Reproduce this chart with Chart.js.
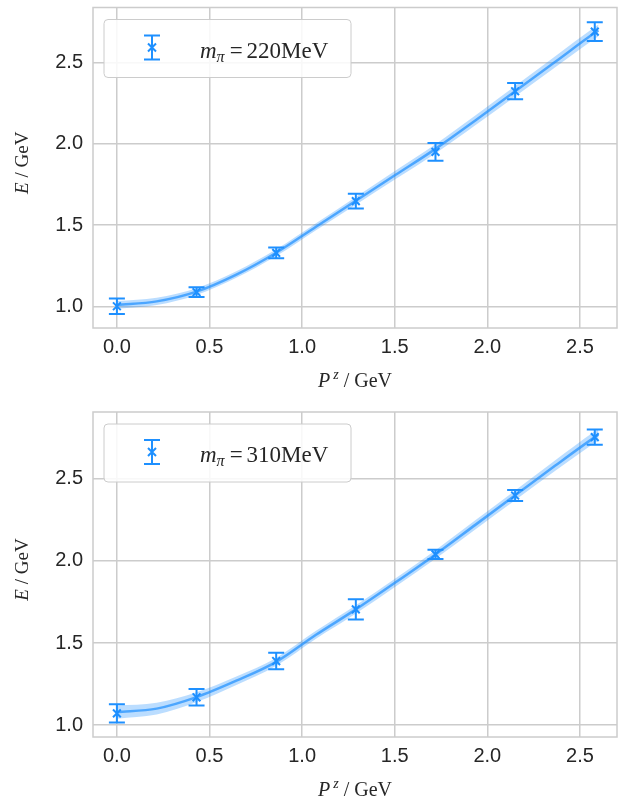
<!DOCTYPE html>
<html>
<head>
<meta charset="utf-8">
<script src="https://cdn.jsdelivr.net/npm/chart.js@4.4.1/dist/chart.umd.min.js"></script>
<style>
  html, body { margin: 0; padding: 0; background: #fff; }
  #wrap { position: relative; width: 636px; height: 801px; }
  canvas { position: absolute; left: 0; }
  #top { top: 0; }
  #bottom { top: 400px; }
</style>
</head>
<body>
<div id="wrap">
  <canvas id="top" width="636" height="400"></canvas>
  <canvas id="bottom" width="636" height="401"></canvas>
</div>
<script>
// lattice momenta (GeV)
const momenta = [0, 0.43, 0.86, 1.29, 1.72, 2.15, 2.58];

// m_pi = 220 MeV
const energy220 = [1.00, 1.087, 1.329, 1.648, 1.951, 2.325, 2.692];
const error220 = [0.048, 0.03, 0.033, 0.045, 0.055, 0.05, 0.058];

// m_pi = 310 MeV
const energy310 = [1.071, 1.169, 1.39, 1.705, 2.04, 2.399, 2.755];
const error310 = [0.055, 0.05, 0.05, 0.062, 0.028, 0.033, 0.046];

// dispersion fit
const fitMomenta = [0, 0.215, 0.43, 0.645, 0.86, 1.075, 1.29, 1.505, 1.72, 1.935, 2.15, 2.365, 2.58, 2.6];
const fit220 = [1.008, 1.03, 1.09, 1.195, 1.33, 1.49, 1.65, 1.81, 1.97, 2.145, 2.325, 2.505, 2.685, 2.70];
const band220 = [0.024, 0.023, 0.021, 0.02, 0.021, 0.022, 0.024, 0.026, 0.028, 0.03, 0.032, 0.034, 0.036, 0.036];
const fit310 = [1.079, 1.10, 1.17, 1.27, 1.385, 1.55, 1.705, 1.87, 2.04, 2.22, 2.40, 2.58, 2.755, 2.77];
const band310 = [0.04, 0.036, 0.03, 0.026, 0.024, 0.024, 0.025, 0.025, 0.026, 0.028, 0.03, 0.032, 0.035, 0.035];

const xTicks = [0, 0.5, 1.0, 1.5, 2.0, 2.5];
const yTicks = [1.0, 1.5, 2.0, 2.5];

const BLUE = '#1E90FF';
const GRID = '#cccccc';
const TEXT = '#262626';

const pts = (xs, ys) => xs.map((x, i) => ({ x: x, y: ys[i] }));

// error bars + frame + legend + axis titles
const decorations = {
  id: 'decorations',
  afterDatasetsDraw(chart, args, opts) {
    const { ctx, scales: { x, y } } = chart;
    ctx.save();
    ctx.strokeStyle = BLUE;
    ctx.lineWidth = 2;
    opts.values.forEach((v, i) => {
      const px = x.getPixelForValue(opts.momenta[i]);
      const y0 = y.getPixelForValue(v - opts.errors[i]);
      const y1 = y.getPixelForValue(v + opts.errors[i]);
      ctx.beginPath();
      ctx.moveTo(px, y0); ctx.lineTo(px, y1);
      ctx.moveTo(px - 8, y0); ctx.lineTo(px + 8, y0);
      ctx.moveTo(px - 8, y1); ctx.lineTo(px + 8, y1);
      ctx.stroke();
    });
    ctx.restore();
  },
  afterDraw(chart, args, opts) {
    const { ctx, chartArea: a } = chart;
    ctx.save();
    // frame
    ctx.strokeStyle = GRID;
    ctx.lineWidth = 1.5;
    ctx.strokeRect(a.left, a.top, a.right - a.left, a.bottom - a.top);

    // legend box
    const lx = a.left + 11, ly = a.top + 12, lw = 247, lh = 58;
    ctx.beginPath();
    ctx.roundRect(lx, ly, lw, lh, 4);
    ctx.fillStyle = 'rgba(255,255,255,0.85)';
    ctx.fill();
    ctx.strokeStyle = GRID;
    ctx.lineWidth = 1;
    ctx.stroke();

    // legend marker
    const mx = lx + 48, my = ly + 28;
    ctx.strokeStyle = BLUE;
    ctx.lineWidth = 2;
    ctx.beginPath();
    ctx.moveTo(mx, my - 12); ctx.lineTo(mx, my + 12);
    ctx.moveTo(mx - 8, my - 12); ctx.lineTo(mx + 8, my - 12);
    ctx.moveTo(mx - 8, my + 12); ctx.lineTo(mx + 8, my + 12);
    ctx.moveTo(mx - 4, my - 4); ctx.lineTo(mx + 4, my + 4);
    ctx.moveTo(mx - 4, my + 4); ctx.lineTo(mx + 4, my - 4);
    ctx.stroke();

    // legend label: m_pi = ...MeV
    ctx.fillStyle = TEXT;
    ctx.textBaseline = 'alphabetic';
    ctx.textAlign = 'left';
    let tx = lx + 96;
    const tb = ly + 38;
    ctx.font = 'italic 23px "Liberation Serif"';
    ctx.fillText('m', tx, tb);
    tx += ctx.measureText('m').width;
    ctx.font = 'italic 16px "Liberation Serif"';
    ctx.fillText('π', tx, tb + 4);
    tx += ctx.measureText('π').width + 5;
    ctx.font = '23px "Liberation Serif"';
    ctx.fillText('=', tx, tb);
    tx += ctx.measureText('=').width + 4;
    ctx.fillText(opts.label, tx, tb);

    // x title: P^z / GeV
    ctx.font = 'italic 20px "Liberation Serif"';
    const wP = ctx.measureText('P').width;
    ctx.font = 'italic 14px "Liberation Serif"';
    const wZ = ctx.measureText('z').width;
    ctx.font = '20px "Liberation Serif"';
    const wR = ctx.measureText(' / GeV').width;
    let sx = (a.left + a.right) / 2 - (wP + wZ + 3 + wR) / 2;
    const sb = a.bottom + 59;
    ctx.font = 'italic 20px "Liberation Serif"';
    ctx.fillText('P', sx, sb);
    sx += wP + 3;
    ctx.font = 'italic 14px "Liberation Serif"';
    ctx.fillText('z', sx, sb - 8);
    sx += wZ;
    ctx.font = '20px "Liberation Serif"';
    ctx.fillText(' / GeV', sx, sb);

    // y title: E / GeV
    ctx.translate(28, (a.top + a.bottom) / 2 - 5);
    ctx.rotate(-Math.PI / 2);
    ctx.font = 'italic 19px "Liberation Serif"';
    const wE = ctx.measureText('E').width;
    ctx.font = '19px "Liberation Serif"';
    const wG = ctx.measureText(' / GeV').width;
    const ex = -(wE + wG) / 2;
    ctx.font = 'italic 19px "Liberation Serif"';
    ctx.fillText('E', ex, 0);
    ctx.font = '19px "Liberation Serif"';
    ctx.fillText(' / GeV', ex + wE, 0);
    ctx.restore();
  },
};

function makeChart(id, values, errors, fit, band, label, yMin, yMax, xHeight, padTop) {
  const lower = fit.map((v, i) => v - band[i]);
  const upper = fit.map((v, i) => v + band[i]);
  const tickFont = { family: 'Liberation Sans', size: 20 };
  return new Chart(document.getElementById(id), {
    type: 'scatter',
    data: {
      datasets: [
        {
          data: pts(fitMomenta, lower),
          showLine: true,
          borderWidth: 0,
          borderColor: 'rgba(0,0,0,0)',
          pointRadius: 0,
          cubicInterpolationMode: 'monotone',
          fill: false,
        },
        {
          data: pts(fitMomenta, upper),
          showLine: true,
          borderWidth: 0,
          borderColor: 'rgba(0,0,0,0)',
          pointRadius: 0,
          cubicInterpolationMode: 'monotone',
          fill: '-1',
          backgroundColor: 'rgba(30,144,255,0.3)',
        },
        {
          data: pts(fitMomenta, fit),
          showLine: true,
          borderWidth: 2.5,
          borderColor: 'rgba(30,144,255,0.7)',
          pointRadius: 0,
          cubicInterpolationMode: 'monotone',
        },
        {
          data: pts(momenta, values),
          pointStyle: 'crossRot',
          pointRadius: 5.5,
          borderWidth: 2,
          borderColor: BLUE,
          backgroundColor: BLUE,
        },
      ],
    },
    options: {
      responsive: false,
      animation: false,
      layout: { padding: { top: padTop, right: 19, left: 0, bottom: 0 } },
      plugins: {
        legend: { display: false },
        tooltip: { enabled: false },
        decorations: { momenta: momenta, values: values, errors: errors, label: label },
      },
      scales: {
        x: {
          type: 'linear',
          min: -0.129,
          max: 2.70,
          afterBuildTicks: (scale) => { scale.ticks = xTicks.map((v) => ({ value: v })); },
          afterFit: (scale) => {
            scale.height = xHeight;
            scale.paddingLeft = 0;
            scale.paddingRight = 0;
          },
          grid: { color: GRID, lineWidth: 1.5, drawTicks: false },
          border: { display: false },
          ticks: {
            padding: 7,
            color: TEXT,
            font: tickFont,
            callback: (v) => v.toFixed(1),
          },
        },
        y: {
          type: 'linear',
          min: yMin,
          max: yMax,
          afterBuildTicks: (scale) => { scale.ticks = yTicks.map((v) => ({ value: v })); },
          afterFit: (scale) => {
            scale.width = 93;
            scale.paddingTop = 0;
            scale.paddingBottom = 0;
          },
          grid: { color: GRID, lineWidth: 1.5, drawTicks: false },
          border: { display: false },
          ticks: {
            padding: 10,
            color: TEXT,
            font: tickFont,
            callback: (v) => v.toFixed(1),
          },
        },
      },
    },
    plugins: [decorations],
  });
}

makeChart('top', energy220, error220, fit220, band220, '220MeV', 0.866, 2.841, 72, 4);
makeChart('bottom', energy310, error310, fit310, band310, '310MeV', 0.927, 2.908, 64, 12);
</script>
</body>
</html>
